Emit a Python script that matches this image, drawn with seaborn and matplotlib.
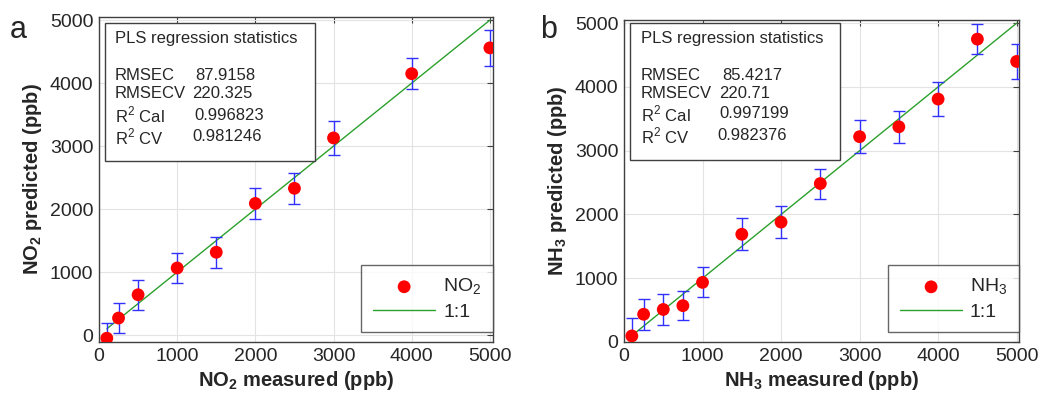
import numpy as np
import pandas as pd
import matplotlib
matplotlib.use('Agg')
import matplotlib.pyplot as plt
from matplotlib.patches import Rectangle
import seaborn as sns

# NO2 panel
no2_measured = [100, 250, 500, 1000, 1500, 2000, 2500, 3000, 4000, 5000]
no2_predicted = [-50, 270, 640, 1065, 1315, 2090, 2330, 3130, 4150, 4560]
no2_err = [240, 240, 235, 235, 245, 250, 250, 265, 245, 290]
no2_stats = ['87.9158', '220.325', '0.996823', '0.981246']

# NH3 panel
nh3_measured = [100, 250, 500, 750, 1000, 1500, 2000, 2500, 3000, 3500, 4000, 4500, 5000]
nh3_predicted = [95, 435, 510, 570, 935, 1690, 1880, 2485, 3220, 3375, 3810, 4750, 4400]
nh3_err = [280, 240, 240, 230, 235, 250, 250, 235, 260, 250, 270, 235, 280]
nh3_stats = ['85.4217', '220.71', '0.997199', '0.982376']

one_to_one = [100, 5000]
ticks = [0, 1000, 2000, 3000, 4000, 5000]
stat_names = ['RMSEC', 'RMSECV', 'R$^2$ Cal', 'R$^2$ CV']

sns.set_style('white')
plt.rcParams['font.family'] = ['Liberation Sans', 'DejaVu Sans']
plt.rcParams['mathtext.fontset'] = 'custom'
plt.rcParams['mathtext.rm'] = 'Liberation Sans'
plt.rcParams['mathtext.bf'] = 'Liberation Sans:bold'

W, H = 1038, 397
fig = plt.figure(figsize=(W / 100, H / 100), dpi=100)


def px(x0, y0, x1, y1):
    return [x0 / W, 1 - y1 / H, (x1 - x0) / W, (y1 - y0) / H]


def panel(rect, meas, pred, err, base, idx, stats, ylim, xlim, letter,
          letter_x, box, name_x, val_x, rows, title_y):
    ax = fig.add_axes(rect)
    gas = base + '$_' + idx + '$'
    bold_gas = base + r'$_\mathbf{' + idx + '}$'
    df = pd.DataFrame({'measured': meas, 'predicted': pred})
    line_df = pd.DataFrame({'x': one_to_one, 'y': one_to_one})
    ax.errorbar(meas, pred, yerr=err, fmt='none', ecolor='#3030ff',
                elinewidth=1, capsize=4, capthick=1, zorder=3)
    sns.lineplot(data=line_df, x='x', y='y', color='#2ca02c', lw=1,
                 label='1:1', ax=ax, zorder=2)
    sns.scatterplot(data=df, x='measured', y='predicted', color='red',
                    s=85, edgecolor='none', label=gas, ax=ax, zorder=4)
    ax.set_xlim(*xlim)
    ax.set_ylim(*ylim)
    ax.set_xticks(ticks)
    ax.set_yticks(ticks)
    ax.grid(True, color='#e3e3e3', lw=0.8)
    ax.tick_params(direction='in', top=True, right=True, length=4,
                   labelsize=14, color='#404040', pad=4)
    for s in ax.spines.values():
        s.set_color('#404040')
        s.set_linewidth(1)
    ax.set_xlabel(bold_gas + ' measured (ppb)', fontsize=14.5,
                  fontweight='bold', labelpad=3)
    ax.set_ylabel(bold_gas + ' predicted (ppb)', fontsize=14.5,
                  fontweight='bold', labelpad=4)

    # legend: put scatter first
    h, l = ax.get_legend_handles_labels()
    order = [l.index(gas), l.index('1:1')]
    leg = ax.legend([h[i] for i in order], [l[i] for i in order],
                    loc='lower right', bbox_to_anchor=(1.0, 0.03),
                    fontsize=14, frameon=True, fancybox=False,
                    edgecolor='#404040', handlelength=3.2,
                    handletextpad=0.4, borderpad=0.6, labelspacing=0.3,
                    borderaxespad=0)
    leg.get_frame().set_linewidth(1)

    # stats box
    bx0, by0, bx1, by1 = box
    fig.patches.append(Rectangle((bx0 / W, 1 - by1 / H), (bx1 - bx0) / W,
                                 (by1 - by0) / H, transform=fig.transFigure,
                                 facecolor='white', edgecolor='#404040',
                                 lw=1, zorder=5))
    fig.text(name_x / W, 1 - title_y / H, 'PLS regression statistics',
             fontsize=12, va='center', zorder=6)
    for name, val, vx, ry in zip(stat_names, stats, val_x, rows):
        fig.text(name_x / W, 1 - ry / H, name, fontsize=12, va='center',
                 zorder=6)
        fig.text(vx / W, 1 - ry / H, val, fontsize=12, va='center', zorder=6)

    fig.text(letter_x / W, 1 - 30 / H, letter, fontsize=22, va='center')
    return ax


panel(px(99, 17, 493, 342), no2_measured, no2_predicted, no2_err, 'NO', '2',
      no2_stats, (-110, 5050), (0, 5040), 'a', 10,
      (105, 23, 315, 161), 115, [195, 192, 194, 192], [76, 94, 115, 137], 39)
panel(px(624, 20, 1019, 342), nh3_measured, nh3_predicted, nh3_err, 'NH', '3',
      nh3_stats, (0, 5050), (0, 5030), 'b', 540,
      (630, 23, 840, 160), 641, [722, 719, 719, 717], [75, 93, 114, 136], 38)

fig.savefig('out.png', dpi=100)
